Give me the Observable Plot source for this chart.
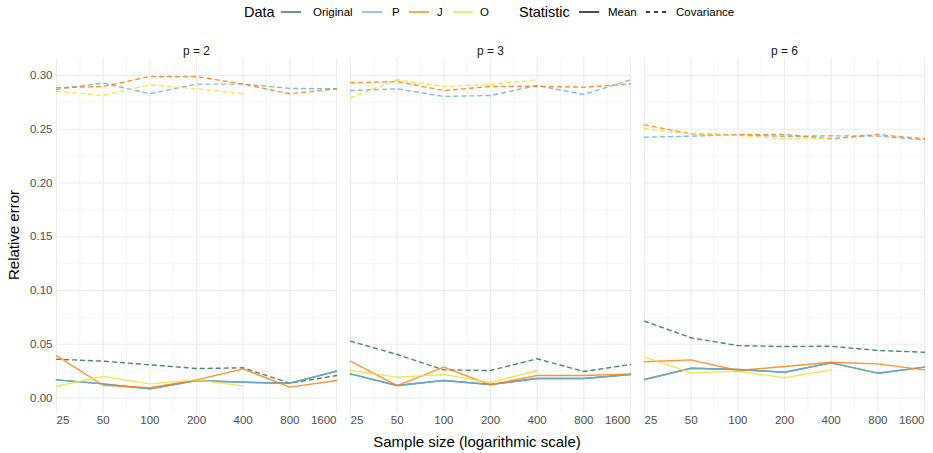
<!DOCTYPE html>
<html><head><meta charset="utf-8">
<script src="https://cdn.jsdelivr.net/npm/d3@7"></script>
<script src="https://cdn.jsdelivr.net/npm/@observablehq/plot@0.6"></script>
<style>
body{margin:0;background:#fff;font-family:"Liberation Sans",Arial,sans-serif;}
#legend{position:relative;height:25px;width:933px;}
#legend .t{position:absolute;top:12px;transform:translateY(-50%);white-space:nowrap;color:#000;}
#legend .ti{font-size:14.5px;}
#legend .lb{font-size:11.5px;}
#legend svg{position:absolute;top:7px;}
</style></head><body>
<div id="legend"></div>
<div id="chart"></div>
<script>
// ---- categories / ticks ----
const sampleSizes = [25, 50, 100, 200, 400, 800, 1600];
const sampleSizesO = [25, 50, 100, 200, 400];
const panels = ["p = 2", "p = 3", "p = 6"];
const dataNames = ["Original", "P", "J", "O"];
const statNames = ["Mean", "Covariance"];
const dataColors = ["#2B6E53", "#6BAED6", "#FF7F0E", "#F3DE3A"];
const yMajor = [0, 0.05, 0.10, 0.15, 0.20, 0.25, 0.30];
const yMinor = [0.025, 0.075, 0.125, 0.175, 0.225, 0.275];
const xMinor = [35.36, 70.71, 141.42, 282.84, 565.69, 1131.37];
const xTitle = "Sample size (logarithmic scale)";
const yTitle = "Relative error";

// ---- values: p = 2 ----
const p2MeanOriginal = [0.0169, 0.0132, 0.0085, 0.0163, 0.0147, 0.0138, 0.0249];
const p2CovOriginal  = [0.0361, 0.0343, 0.0309, 0.0274, 0.0281, 0.0138, 0.0209];
const p2MeanP        = [0.0169, 0.0132, 0.0085, 0.0163, 0.0147, 0.0138, 0.0249];
const p2CovP         = [0.2870, 0.2930, 0.2830, 0.2920, 0.2920, 0.2880, 0.2876];
const p2MeanJ        = [0.0395, 0.0119, 0.0095, 0.0169, 0.0271, 0.0101, 0.0163];
const p2CovJ         = [0.2886, 0.2898, 0.2990, 0.2990, 0.2920, 0.2830, 0.2876];
const p2MeanO        = [0.0110, 0.0200, 0.0132, 0.0169, 0.0113];
const p2CovO         = [0.2854, 0.2814, 0.2913, 0.2876, 0.2830];
// ---- values: p = 3 ----
const p3MeanOriginal = [0.0225, 0.0116, 0.0163, 0.0126, 0.0181, 0.0181, 0.0219];
const p3CovOriginal  = [0.0529, 0.0405, 0.0262, 0.0256, 0.0365, 0.0247, 0.0312];
const p3MeanP        = [0.0225, 0.0116, 0.0163, 0.0126, 0.0181, 0.0181, 0.0219];
const p3CovP         = [0.2860, 0.2876, 0.2805, 0.2814, 0.2907, 0.2823, 0.2960];
const p3MeanJ        = [0.0343, 0.0116, 0.0287, 0.0123, 0.0209, 0.0209, 0.0225];
const p3CovJ         = [0.2932, 0.2944, 0.2860, 0.2898, 0.2900, 0.2891, 0.2922];
const p3MeanO        = [0.0256, 0.0194, 0.0219, 0.0144, 0.0256];
const p3CovO         = [0.2792, 0.2960, 0.2898, 0.2916, 0.2960];
// ---- values: p = 6 ----
const p6MeanOriginal = [0.0172, 0.0277, 0.0265, 0.0240, 0.0327, 0.0231, 0.0287];
const p6CovOriginal  = [0.0715, 0.0560, 0.0488, 0.0479, 0.0482, 0.0442, 0.0426];
const p6MeanP        = [0.0172, 0.0277, 0.0265, 0.0240, 0.0327, 0.0231, 0.0287];
const p6CovP         = [0.2426, 0.2436, 0.2448, 0.2433, 0.2439, 0.2436, 0.2402];
const p6MeanJ        = [0.0337, 0.0355, 0.0256, 0.0293, 0.0333, 0.0318, 0.0262];
const p6CovJ         = [0.2541, 0.2458, 0.2448, 0.2451, 0.2411, 0.2451, 0.2411];
const p6MeanO        = [0.0380, 0.0234, 0.0249, 0.0188, 0.0262];
const p6CovO         = [0.2504, 0.2458, 0.2442, 0.2411, 0.2420];

const series = [
  ["p = 2", "Original", "Mean", sampleSizes, p2MeanOriginal],
  ["p = 2", "Original", "Covariance", sampleSizes, p2CovOriginal],
  ["p = 2", "P", "Mean", sampleSizes, p2MeanP],
  ["p = 2", "P", "Covariance", sampleSizes, p2CovP],
  ["p = 2", "J", "Mean", sampleSizes, p2MeanJ],
  ["p = 2", "J", "Covariance", sampleSizes, p2CovJ],
  ["p = 2", "O", "Mean", sampleSizesO, p2MeanO],
  ["p = 2", "O", "Covariance", sampleSizesO, p2CovO],
  ["p = 3", "Original", "Mean", sampleSizes, p3MeanOriginal],
  ["p = 3", "Original", "Covariance", sampleSizes, p3CovOriginal],
  ["p = 3", "P", "Mean", sampleSizes, p3MeanP],
  ["p = 3", "P", "Covariance", sampleSizes, p3CovP],
  ["p = 3", "J", "Mean", sampleSizes, p3MeanJ],
  ["p = 3", "J", "Covariance", sampleSizes, p3CovJ],
  ["p = 3", "O", "Mean", sampleSizesO, p3MeanO],
  ["p = 3", "O", "Covariance", sampleSizesO, p3CovO],
  ["p = 6", "Original", "Mean", sampleSizes, p6MeanOriginal],
  ["p = 6", "Original", "Covariance", sampleSizes, p6CovOriginal],
  ["p = 6", "P", "Mean", sampleSizes, p6MeanP],
  ["p = 6", "P", "Covariance", sampleSizes, p6CovP],
  ["p = 6", "J", "Mean", sampleSizes, p6MeanJ],
  ["p = 6", "J", "Covariance", sampleSizes, p6CovJ],
  ["p = 6", "O", "Mean", sampleSizesO, p6MeanO],
  ["p = 6", "O", "Covariance", sampleSizesO, p6CovO]
];
const rows = [];
for (const [p, data, stat, ns, vals] of series) {
  ns.forEach((n, i) => rows.push({p, data, stat, n, value: vals[i], key: p + data + stat}));
}

const chart = Plot.plot({
  width: 933, height: 428,
  marginLeft: 55, marginRight: 8, marginTop: 33, marginBottom: 40,
  style: {fontFamily: '"Liberation Sans", Arial, sans-serif', background: "#fff"},
  fx: {domain: panels, paddingInner: 0.046, paddingOuter: 0, label: null},
  x: {type: "log", domain: [25, 1600], axis: null},
  y: {domain: [-0.0144, 0.3158], axis: null},
  color: {domain: dataNames, range: dataColors},
  marks: [
    Plot.ruleX(xMinor, {stroke: "#f0f0f0", strokeWidth: 0.7}),
    Plot.ruleY(yMinor, {stroke: "#f0f0f0", strokeWidth: 0.7}),
    Plot.ruleX(sampleSizes, {stroke: "#ebebeb", strokeWidth: 1.1}),
    Plot.ruleY(yMajor, {stroke: "#ebebeb", strokeWidth: 1.1}),
    Plot.axisFx({anchor: "top", tickSize: 0, tickPadding: 4, fontSize: 12, color: "#1a1a1a", label: null}),
    Plot.axisY(yMajor, {tickSize: 0, tickPadding: 4, fontSize: 11.5, color: "#4d4d4d", tickFormat: d3.format(".2f"), label: null}),
    Plot.text(sampleSizes.slice(0, 1), {x: d => d, text: d => String(d), frameAnchor: "bottom", dy: 10, textAnchor: "start", fontSize: 11.5, fill: "#4d4d4d"}),
    Plot.text(sampleSizes.slice(1, -1), {x: d => d, text: d => String(d), frameAnchor: "bottom", dy: 10, fontSize: 11.5, fill: "#4d4d4d"}),
    Plot.text(sampleSizes.slice(-1), {x: d => d, text: d => String(d), frameAnchor: "bottom", dy: 10, textAnchor: "end", fontSize: 11.5, fill: "#4d4d4d"}),
    Plot.line(rows.filter(d => d.stat === "Covariance"), {fx: "p", x: "n", y: "value", z: "key", stroke: "data", strokeWidth: 1.4, strokeOpacity: 0.85, strokeDasharray: "4,4"}),
    Plot.line(rows.filter(d => d.stat === "Mean"), {fx: "p", x: "n", y: "value", z: "key", stroke: "data", strokeWidth: 1.4, strokeOpacity: 0.85})
  ]
});
document.getElementById("chart").appendChild(chart);
const svg = d3.select(chart);
svg.append("text").attr("x", 477).attr("y", 418).attr("text-anchor", "middle").attr("dominant-baseline", "middle")
  .attr("font-size", 15).attr("fill", "#000").text(xTitle);
svg.append("text").attr("transform", "translate(15,210) rotate(-90)").attr("text-anchor", "middle").attr("dominant-baseline", "middle")
  .attr("font-size", 15).attr("fill", "#000").text(yTitle);

// ---- legend ----
const legend = d3.select("#legend");
function addText(x, text, cls) { legend.append("div").attr("class", "t " + cls).style("left", x + "px").text(text); }
function addSwatch(x, color, dash) {
  const s = legend.append("svg").attr("width", 20).attr("height", 10).style("left", x + "px");
  s.append("line").attr("x1", 0).attr("x2", 20).attr("y1", 5).attr("y2", 5).attr("stroke", color).attr("stroke-width", 1.4)
    .attr("stroke-dasharray", dash ? "4,4" : null);
}
addText(244, "Data", "ti");
const dataX = [281, 362, 409, 453];
const dataLabelX = [313, 392, 437, 480];
dataNames.forEach((d, i) => { addSwatch(dataX[i], dataColors[i], false); addText(dataLabelX[i], d, "lb"); });
addText(519, "Statistic", "ti");
const statX = [579, 646];
const statLabelX = [608, 676];
statNames.forEach((d, i) => { addSwatch(statX[i], "#000", i === 1); addText(statLabelX[i], d, "lb"); });
</script>
</body></html>
